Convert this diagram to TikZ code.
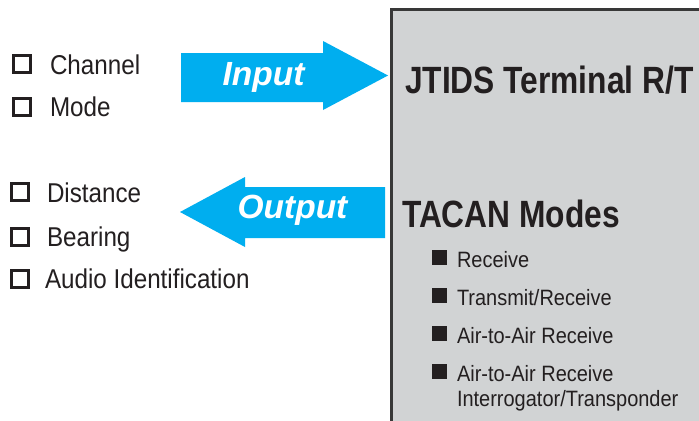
\documentclass[tikz,border=0pt]{standalone}
\usepackage{fontspec}
\setmainfont{Liberation Sans}
\newfontfamily\listfont{Liberation Sans}[FakeStretch=0.89]
\newfontfamily\headfont{Liberation Sans}[FakeStretch=0.835]
\newfontfamily\modefont{Liberation Sans}[FakeStretch=0.9]
\newfontfamily\arrowfont{Liberation Sans}
\definecolor{arrowblue}{HTML}{00AEEF}
\definecolor{boxgray}{HTML}{D1D3D4}
\definecolor{boxedge}{HTML}{383838}
\definecolor{ink}{HTML}{231F20}
\tikzset{
  txt/.style={inner sep=0pt, outer sep=0pt, text=ink, anchor=base west},
  listtxt/.style={txt, font=\listfont\fontsize{27.2bp}{30bp}\selectfont},
  headtxt/.style={txt, font=\headfont\bfseries\fontsize{38bp}{42bp}\selectfont},
  modetxt/.style={txt, font=\modefont\fontsize{22.2bp}{24.5bp}\selectfont, align=left},
  arrowtxt/.style={inner sep=0pt, outer sep=0pt, text=white, anchor=base,
    font=\arrowfont\bfseries\itshape\fontsize{33.5bp}{36bp}\selectfont},
  checkbox/.style={draw=ink, line width=3bp, fill=white, minimum size=17bp, inner sep=0pt, outer sep=0pt},
  bulletbox/.style={fill=ink, minimum size=15bp, inner sep=0pt, outer sep=0pt},
  bigarrow/.style={fill=arrowblue, draw=none}
}
\begin{document}
\begin{tikzpicture}[x=1bp,y=-1bp]
\useasboundingbox[fill=white] (0,0) rectangle (699,420);

% terminal box
\node[draw=boxedge, fill=boxgray, line width=2.5bp, minimum width=340bp, minimum height=440bp,
      anchor=north west, inner sep=0pt] (terminal) at (390,8.3) {};

% input list
\node[checkbox] (cb1) at (22,63.5) {};
\node[listtxt] (channel) at (50,74) {Channel};
\node[checkbox] (cb2) at (22,106.5) {};
\node[listtxt] (mode) at (50,116.5) {Mode};

% output list
\node[checkbox] (cb3) at (19.5,192) {};
\node[listtxt] (distance) at (47,202) {Distance};
\node[checkbox] (cb4) at (19.5,237) {};
\node[listtxt] (bearing) at (47,246.5) {Bearing};
\node[checkbox] (cb5) at (19.5,279) {};
\node[listtxt] (audio) at (45,288.5) {Audio Identification};

% input arrow
\coordinate (intip) at (388,75.5);
\fill[bigarrow] (181,53) -- (323,53) -- (323,41) -- (intip) -- (323,110) -- (323,102) -- (181,102) -- cycle;
\node[arrowtxt] (input) at (263.5,85) {Input};

% output arrow
\coordinate (outtip) at (180,212);
\fill[bigarrow] (385,187) -- (245,187) -- (245,177) -- (outtip) -- (245,247) -- (245,238) -- (385,238) -- cycle;
\node[arrowtxt] (output) at (292.5,218) {Output};

% headings
\node[headtxt] (jtids) at (405,93) {JTIDS Terminal R/T};
\node[headtxt] (tacan) at (402,227) {TACAN Modes};

% modes
\node[bulletbox] (b1) at (439.5,257.5) {};
\node[modetxt] (m1) at (457,267) {Receive};
\node[bulletbox] (b2) at (439.5,295.5) {};
\node[modetxt] (m2) at (457,305) {Transmit/Receive};
\node[bulletbox] (b3) at (439.5,333.5) {};
\node[modetxt] (m3) at (457,343) {Air-to-Air Receive};
\node[bulletbox] (b4) at (439.5,371.5) {};
\node[modetxt] (m4) at (457,381) {Air-to-Air Receive};
\node[modetxt] (m5) at (457,406) {Interrogator/Transponder};
\end{tikzpicture}
\end{document}
